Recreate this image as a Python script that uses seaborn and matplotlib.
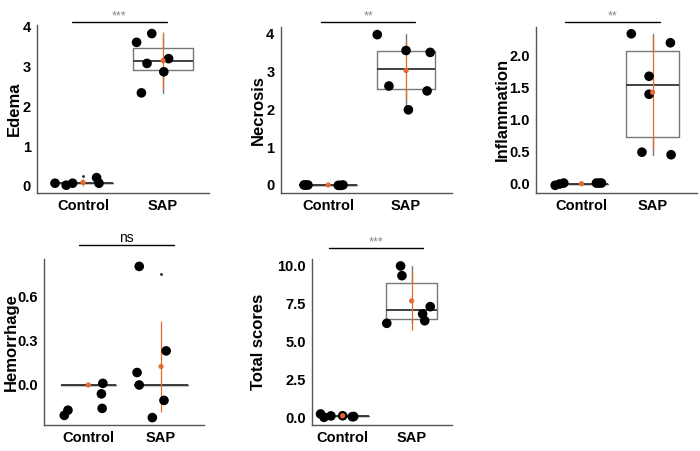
import matplotlib
matplotlib.use('Agg')
import matplotlib.pyplot as plt
import seaborn as sns
import numpy as np

sns.set_style('white')
plt.rcParams['font.family'] = ['Liberation Sans', 'DejaVu Sans']

groups = ['Control', 'SAP']
orange = '#E8692D'

# ---- Edema
edema_ctrl_jit = [-0.35, -0.21, -0.13, 0.17, 0.2]
edema_ctrl_val = [0.07, 0.02, 0.07, 0.21, 0.07]
edema_sap_jit = [-0.33, -0.14, -0.2, 0.07, 0.01, -0.27]
edema_sap_val = [3.61, 3.83, 3.08, 3.2, 2.87, 2.34]
edema_q1 = [0.075, 2.92]
edema_med = [0.075, 3.13]
edema_q3 = [0.075, 3.47]
edema_lo = [0.075, 2.34]
edema_hi = [0.075, 3.83]
edema_out = [[0.26], []]
edema_mean = [0.09, 3.15]
edema_sd = [0.09, 0.72]

# ---- Necrosis
necro_ctrl_jit = [-0.31, -0.29, -0.26, 0.13, 0.16, 0.19]
necro_ctrl_val = [0.0, 0.0, 0.0, -0.01, -0.01, 0.0]
necro_sap_jit = [-0.37, 0.0, 0.31, -0.22, 0.27, 0.03]
necro_sap_val = [3.98, 3.56, 3.51, 2.62, 2.49, 1.99]
necro_q1 = [0.0, 2.53]
necro_med = [0.0, 3.07]
necro_q3 = [0.0, 3.55]
necro_lo = [0.0, 1.99]
necro_hi = [0.0, 4.0]
necro_out = [[], []]
necro_mean = [0.0, 3.03]
necro_sd = [0.0, 0.77]

# ---- Inflammation
infl_ctrl_jit = [-0.37, -0.31, -0.25, 0.21, 0.25, 0.28]
infl_ctrl_val = [-0.025, -0.005, 0.01, 0.01, 0.01, 0.01]
infl_sap_jit = [-0.30, 0.25, -0.05, -0.05, -0.15, 0.26]
infl_sap_val = [2.33, 2.19, 1.67, 1.39, 0.49, 0.45]
infl_q1 = [0.0, 0.73]
infl_med = [0.0, 1.53]
infl_q3 = [0.0, 2.07]
infl_lo = [0.0, 0.45]
infl_hi = [0.0, 2.33]
infl_out = [[], []]
infl_mean = [0.0, 1.42]
infl_sd = [0.0, 0.88]

# ---- Hemorrhage
hemo_ctrl_jit = [-0.33, -0.28, 0.2, 0.18, 0.19]
hemo_ctrl_val = [-0.205, -0.17, 0.011, -0.06, -0.158]
hemo_sap_jit = [-0.30, -0.33, -0.30, 0.07, 0.04, -0.12]
hemo_sap_val = [0.80, 0.084, 0.0, 0.23, -0.104, -0.22]
hemo_q1 = [0.0, 0.0]
hemo_med = [0.0, 0.0]
hemo_q3 = [0.0, 0.0]
hemo_lo = [0.0, 0.0]
hemo_hi = [0.0, 0.0]
hemo_out = [[], [0.75]]
hemo_mean = [0.0, 0.125]
hemo_sd = [0.0, 0.306]

# ---- Total scores
total_ctrl_jit = [-0.32, -0.27, -0.17, 0.0, 0.14, 0.16]
total_ctrl_val = [0.22, 0.0, 0.09, 0.1, 0.04, 0.05]
total_sap_jit = [-0.16, -0.14, -0.36, 0.27, 0.16, 0.19]
total_sap_val = [10.0, 9.36, 6.21, 7.31, 6.83, 6.38]
total_q1 = [0.1, 6.48]
total_med = [0.1, 7.09]
total_q3 = [0.1, 8.9]
total_lo = [0.1, 6.21]
total_hi = [0.1, 10.0]
total_out = [[], []]
total_mean = [0.1, 7.69]
total_sd = [0.05, 1.9]

fig = plt.figure(figsize=(7, 4.51), dpi=100)


def panel(rect, label, label_x, ctrl_jit, ctrl_val, sap_jit, sap_val,
          q1, med, q3, lo, hi, out, mean, sd,
          xlim, ylim, yticks, fmt, sig, sig_y, sig_x):
    ax = fig.add_axes(rect)
    x = np.concatenate([np.zeros(len(ctrl_jit)) + ctrl_jit,
                        np.ones(len(sap_jit)) + sap_jit])
    y = np.concatenate([ctrl_val, sap_val])

    stats = []
    for i in range(2):
        stats.append(dict(med=med[i], q1=q1[i], q3=q3[i], whislo=lo[i],
                          whishi=hi[i], fliers=out[i]))
    ax.bxp(stats, positions=[0, 1], widths=0.75, showcaps=False,
           manage_ticks=False,
           boxprops=dict(color='#777777', lw=1.0),
           whiskerprops=dict(color='#777777', lw=1.0),
           medianprops=dict(color='#333333', lw=1.3),
           flierprops=dict(marker='o', markersize=2, markerfacecolor='#222222',
                           markeredgecolor='none'))
    ax.errorbar([0, 1], mean, yerr=sd, fmt='none', ecolor=orange,
                elinewidth=0.9, capsize=0, zorder=3)
    sns.scatterplot(x=x, y=y, color='black', s=48, edgecolor='none',
                    ax=ax, zorder=4, legend=False)
    ax.scatter([0, 1], mean, color=orange, s=14, zorder=5, edgecolor='none')

    ax.set_xlim(xlim)
    ax.set_ylim(ylim)
    ax.set_xticks([0, 1])
    ax.set_xticklabels(groups, fontsize=10.5, fontweight='bold')
    ax.set_yticks(yticks)
    ax.set_yticklabels([fmt.format(t) for t in yticks], fontsize=10.5,
                       fontweight='bold')
    ax.set_ylabel(label, fontsize=12, fontweight='bold', color='black')
    ax.yaxis.set_label_coords(label_x / 700, rect[1] + rect[3] / 2,
                              transform=fig.transFigure)
    sns.despine(ax=ax)
    for s in ['left', 'bottom']:
        ax.spines[s].set_color('#555555')
        ax.spines[s].set_linewidth(1.0)
    ax.tick_params(axis='both', length=2.5, width=0.8, color='#555555',
                   pad=2, labelcolor='black')

    ax.plot(sig_x, [sig_y, sig_y], color='black', lw=1.0, clip_on=False)
    if sig == 'ns':
        ax.text(np.mean(sig_x), sig_y, sig, ha='center', va='bottom',
                fontsize=10, color='black', clip_on=False)
    else:
        ax.text(np.mean(sig_x), sig_y, sig, ha='center', va='bottom',
                fontsize=9, color='#888888', clip_on=False)
    return ax


panel([37 / 700, 1 - 193 / 451, 172 / 700, 168 / 451], 'Edema', 22,
      edema_ctrl_jit, edema_ctrl_val, edema_sap_jit, edema_sap_val,
      edema_q1, edema_med, edema_q3, edema_lo, edema_hi, edema_out,
      edema_mean, edema_sd,
      (-0.575, 1.575), (-0.176, 4.045), [0, 1, 2, 3, 4], '{:.0f}',
      '***', 4.12, [-0.14, 1.05])

panel([280.7 / 700, 1 - 192.7 / 451, 171.3 / 700, 166 / 451], 'Necrosis', 266,
      necro_ctrl_jit, necro_ctrl_val, necro_sap_jit, necro_sap_val,
      necro_q1, necro_med, necro_q3, necro_lo, necro_hi, necro_out,
      necro_mean, necro_sd,
      (-0.61, 1.59), (-0.204, 4.19), [0, 1, 2, 3, 4], '{:.0f}',
      '**', 4.31, [-0.09, 1.12])

panel([536 / 700, 1 - 192.7 / 451, 160.7 / 700, 166 / 451], 'Inflammation', 510,
      infl_ctrl_jit, infl_ctrl_val, infl_sap_jit, infl_sap_val,
      infl_q1, infl_med, infl_q3, infl_lo, infl_hi, infl_out,
      infl_mean, infl_sd,
      (-0.64, 1.62), (-0.14, 2.44), [0.0, 0.5, 1.0, 1.5, 2.0], '{:.1f}',
      '**', 2.51, [-0.235, 1.10])

panel([44.3 / 700, 1 - 425 / 451, 159.7 / 700, 166 / 451], 'Hemorrhage', 19,
      hemo_ctrl_jit, hemo_ctrl_val, hemo_sap_jit, hemo_sap_val,
      hemo_q1, hemo_med, hemo_q3, hemo_lo, hemo_hi, hemo_out,
      hemo_mean, hemo_sd,
      (-0.605, 1.59), (-0.27, 0.85), [0.0, 0.3, 0.6], '{:.1f}',
      'ns', 0.947, [-0.13, 1.18])

panel([312.3 / 700, 1 - 425 / 451, 140 / 700, 166 / 451], 'Total scores', 266,
      total_ctrl_jit, total_ctrl_val, total_sap_jit, total_sap_val,
      total_q1, total_med, total_q3, total_lo, total_hi, total_out,
      total_mean, total_sd,
      (-0.44, 1.59), (-0.51, 10.46), [0.0, 2.5, 5.0, 7.5, 10.0], '{:.1f}',
      '***', 11.17, [-0.2, 1.16])

fig.savefig('out.png', dpi=100)
